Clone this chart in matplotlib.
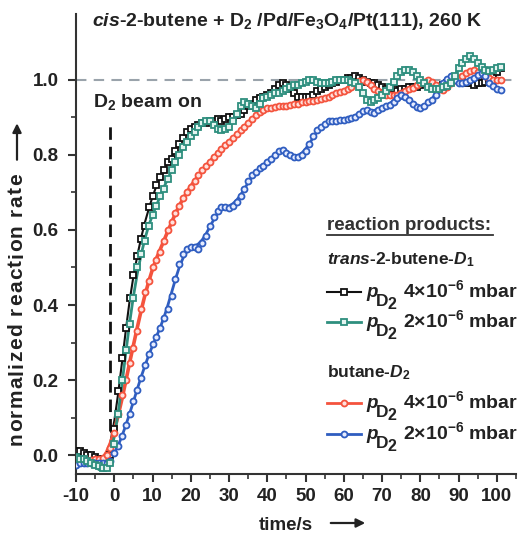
import numpy as np
import matplotlib
matplotlib.use("Agg")
import matplotlib.pyplot as plt
from matplotlib.lines import Line2D
from matplotlib.font_manager import FontProperties, findfont
from matplotlib.ft2font import FT2Font

plt.rcParams['font.family'] = ['Liberation Sans', 'DejaVu Sans']
plt.rcParams['font.weight'] = 'bold'
plt.rcParams['axes.unicode_minus'] = False
plt.rcParams['mathtext.fontset'] = 'custom'
plt.rcParams['mathtext.rm'] = 'Liberation Sans:bold'
plt.rcParams['mathtext.it'] = 'Liberation Sans:italic:bold'
plt.rcParams['mathtext.bf'] = 'Liberation Sans:bold'
plt.rcParams['mathtext.sf'] = 'Liberation Sans:bold'

# time axis (s), one point per second
time_s = np.arange(-10, 102)

# trans-2-butene-D1, pD2 4e-6 mbar
trans_4e6 = [0.01, 0.01, 0.005, 0.0, 0.0, -0.005, -0.01, -0.01, -0.01, 0.0,
             0.07, 0.17, 0.26, 0.34, 0.42, 0.48, 0.53, 0.575, 0.61, 0.66,
             0.69, 0.72, 0.74, 0.76, 0.78, 0.79, 0.81, 0.83, 0.845, 0.86,
             0.87, 0.875, 0.88, 0.885, 0.885, 0.89, 0.89, 0.895, 0.89, 0.895,
             0.9, 0.9, 0.905, 0.91, 0.92, 0.93, 0.935, 0.945, 0.95, 0.955,
             0.96, 0.965, 0.975, 0.985, 0.99, 0.985, 0.975, 0.965, 0.955, 0.955,
             0.955, 0.955, 0.96, 0.97, 0.975, 0.98, 0.985, 0.99, 0.995, 1.0,
             1.0, 1.005, 1.005, 1.01, 1.005, 1.0, 0.995, 0.99, 0.99, 0.985,
             0.98, 0.975, 0.975, 0.975, 0.97, 0.975, 0.975, 0.98, 0.98, 0.98,
             0.985, 0.99, 0.99, 0.985, 0.98, 0.98, 0.985, 0.99, 0.995, 1.0,
             1.0, 0.995, 0.99, 0.99, 0.985, 0.99, 0.99, 0.995, 1.0, 1.01,
             1.02, 1.03]

# trans-2-butene-D1, pD2 2e-6 mbar
trans_2e6 = [-0.005, -0.01, -0.01, -0.015, -0.02, -0.025, -0.03, -0.035, -0.035, -0.02,
             0.03, 0.11, 0.2, 0.28, 0.35, 0.42, 0.5, 0.535, 0.57, 0.61,
             0.64, 0.665, 0.69, 0.71, 0.735, 0.76, 0.78, 0.8, 0.82, 0.835,
             0.85, 0.86, 0.875, 0.885, 0.89, 0.89, 0.88, 0.87, 0.865, 0.87,
             0.875, 0.89, 0.91, 0.93, 0.94, 0.935, 0.93, 0.925, 0.935, 0.95,
             0.955, 0.96, 0.965, 0.965, 0.97, 0.975, 0.98, 0.985, 0.985, 0.99,
             0.995, 1.0, 1.0, 0.995, 0.99, 0.99, 0.99, 0.995, 1.0, 1.0,
             1.0, 1.0, 0.995, 0.99, 0.98, 0.965, 0.945, 0.94, 0.945, 0.95,
             0.96, 0.97, 0.98, 0.995, 1.01, 1.02, 1.025, 1.027, 1.02, 1.01,
             1.0, 0.99, 0.98, 0.975, 0.975, 0.975, 0.98, 0.982, 0.99, 1.01,
             1.03, 1.045, 1.055, 1.062, 1.055, 1.045, 1.035, 1.025, 1.022, 1.025,
             1.03, 1.035]

# butane-D2, pD2 4e-6 mbar
butane_4e6 = [-0.01, -0.01, -0.01, -0.012, -0.012, -0.01, -0.01, -0.008, 0.0, 0.02,
              0.06, 0.11, 0.16, 0.2, 0.245, 0.285, 0.33, 0.39, 0.435, 0.465,
              0.5, 0.52, 0.54, 0.57, 0.6, 0.62, 0.645, 0.665, 0.685, 0.7,
              0.715, 0.73, 0.745, 0.76, 0.77, 0.78, 0.795, 0.805, 0.815, 0.825,
              0.835, 0.845, 0.855, 0.865, 0.875, 0.885, 0.895, 0.905, 0.915, 0.92,
              0.925, 0.925, 0.928, 0.93, 0.93, 0.93, 0.932, 0.935, 0.935, 0.94,
              0.94, 0.942, 0.942, 0.945, 0.948, 0.95, 0.955, 0.96, 0.965, 0.968,
              0.97, 0.975, 0.98, 0.99, 0.997, 1.0, 0.995, 0.985, 0.975, 0.97,
              0.965, 0.96, 0.958, 0.958, 0.96, 0.965, 0.97, 0.975, 0.978, 0.985,
              0.99, 0.995, 1.0, 0.995, 0.985, 0.975, 0.973, 0.98, 0.99, 1.0,
              1.005, 1.01, 1.018, 1.022, 1.027, 1.02, 1.015, 1.009, 1.005, 1.0,
              1.0, 1.0]

# butane-D2, pD2 2e-6 mbar
butane_2e6 = [-0.025, -0.022, -0.02, -0.02, -0.02, -0.02, -0.022, -0.022, -0.02, -0.015,
              0.005, 0.025, 0.05, 0.08, 0.11, 0.145, 0.175, 0.205, 0.24, 0.27,
              0.295, 0.315, 0.34, 0.365, 0.39, 0.425, 0.47, 0.51, 0.535, 0.55,
              0.555, 0.555, 0.55, 0.565, 0.585, 0.61, 0.635, 0.65, 0.66, 0.66,
              0.658, 0.665, 0.675, 0.69, 0.71, 0.73, 0.745, 0.755, 0.765, 0.77,
              0.78, 0.79, 0.8, 0.81, 0.813, 0.805, 0.8, 0.795, 0.795, 0.8,
              0.81, 0.83, 0.85, 0.867, 0.875, 0.883, 0.889, 0.89, 0.891, 0.893,
              0.893, 0.895, 0.898, 0.902, 0.91, 0.917, 0.92, 0.915, 0.911, 0.92,
              0.925, 0.93, 0.933, 0.94, 0.95, 0.958, 0.955, 0.945, 0.935, 0.928,
              0.924, 0.93, 0.94, 0.947, 0.96, 0.975, 0.99, 1.003, 1.009, 1.0,
              0.99, 0.99, 0.995, 1.0, 1.005, 1.012, 1.018, 1.01, 0.991, 0.982,
              0.975, 0.973]

ylabel_text = 'normalized reaction rate'


def smooth(y, half=5):
    # local quadratic fit (Savitzky-Golay style) for the guide lines
    y = np.asarray(y, float)
    out = np.empty_like(y)
    for i in range(len(y)):
        lo, hi = max(0, i - half), min(len(y), i + half + 1)
        c = np.polyfit(time_s[lo:hi], y[lo:hi], 2)
        out[i] = np.polyval(c, time_s[i])
    return out


W, H = 521, 533
fig = plt.figure(figsize=(W / 100, H / 100), dpi=100)
ax = fig.add_axes([76 / W, 1 - 474 / H, (516 - 76) / W, (474 - 14) / H])

series = [
    (trans_4e6, '#111111', 's', 4.6, 1.5, 'white'),
    (butane_4e6, '#f4533d', 'o', 4.3, 2.6, '#ffe0dc'),
    (butane_2e6, '#2f5dc0', 'o', 4.3, 2.0, '#e6ecff'),
    (trans_2e6, '#2e8f7e', 's', 3.9, 2.0, '#e4f4f0'),
]
for vals, col, mk, ms, lw, fc in series:
    ax.plot(time_s, smooth(vals), color=col, lw=lw, zorder=2)
    ax.plot(time_s, vals, ls='none', marker=mk, ms=ms, mew=1.3, mec=col, mfc=fc, zorder=3)

ax.axhline(1.0, color='#9aa3ab', lw=1.5, ls=(0, (5, 3.5)), zorder=1)
ax.plot([-1, -1], [0.065, 0.885], color='#111111', lw=2, ls=(0, (4.5, 2.5)), zorder=4)
ax.text(-5.6, 0.94, r'D$_2$ beam on', fontsize=14, fontweight='bold', va='center', ha='left',
        color='#222222')

ax.set_xlim(-10, 105)
ax.set_ylim(-0.05, 1.175)
ax.set_xticks(np.arange(-10, 101, 10))
ax.set_xticks(np.arange(-5, 106, 10), minor=True)
ax.set_yticks(np.arange(0, 1.01, 0.2))
ax.set_yticks(np.arange(0.1, 1.1, 0.2), minor=True)
ax.set_yticklabels([f'{v:.1f}' for v in np.arange(0, 1.01, 0.2)])
for s in ['top', 'right']:
    ax.spines[s].set_visible(False)
for s in ['left', 'bottom']:
    ax.spines[s].set_linewidth(1.5)
    ax.spines[s].set_color('#333333')
ax.tick_params(which='major', direction='out', length=6, width=1.5, color='#333333',
               labelsize=13.5, labelcolor='#222222')
ax.tick_params(axis='y', which='major', pad=6.5)
ax.tick_params(axis='x', which='major', pad=4)
ax.tick_params(which='minor', direction='out', length=3.5, width=1.2, color='#333333')
for lab in ax.get_xticklabels() + ax.get_yticklabels():
    lab.set_fontweight('bold')

# title and axis labels
fig.text(287 / W, 1 - 21 / H,
         r'$\mathit{cis}$-2-butene + D$_2$ /Pd/Fe$_3$O$_4$/Pt(111), 260 K',
         fontsize=14, fontweight='bold', ha='center', va='center', color='#222222')
fig.text(286 / W, 1 - 525 / H, 'time/s', fontsize=13.5, fontweight='bold', ha='center',
         va='center', color='#222222')
ax.annotate('', xy=(368 / W, 1 - 523 / H), xytext=(328 / W, 1 - 523 / H),
            xycoords='figure fraction', textcoords='figure fraction',
            arrowprops=dict(arrowstyle='-|>', lw=1.6, color='#222222', mutation_scale=13))

# y label, slightly tracked, running up from y=445 px
fsize = 15
ft = FT2Font(findfont(FontProperties(family='Liberation Sans', weight='bold')))
ft.set_size(fsize, 100)
adv = [ft.load_char(ord(c)).linearHoriAdvance / 65536 for c in ylabel_text]
ypos = 445.0
for c, a in zip(ylabel_text, adv):
    fig.text(22 / W, 1 - ypos / H, c, fontsize=fsize, fontweight='bold', rotation=90,
             rotation_mode='anchor', ha='left', va='baseline', color='#222222')
    ypos -= a + 1.3
ax.annotate('', xy=(17 / W, 1 - (ypos - 52) / H), xytext=(17 / W, 1 - (ypos - 10) / H),
            xycoords='figure fraction', textcoords='figure fraction',
            arrowprops=dict(arrowstyle='-|>', lw=1.6, color='#222222', mutation_scale=13))

# legend block
fig.text(327 / W, 1 - 225 / H, 'reaction products:', fontsize=13.5, fontweight='bold',
         ha='left', va='center', color='#333333')
fig.add_artist(Line2D([327 / W, 493 / W], [1 - 235 / H, 1 - 235 / H], color='#333333', lw=1.3))
fig.text(327 / W, 1 - 260 / H, r'$\mathit{trans}$-2-butene-$\mathit{D}_{\mathit{1}}$',
         fontsize=12.5, fontweight='bold', ha='left', va='center', color='#222222')
fig.text(327 / W, 1 - 373 / H, r'butane-$\mathit{D}_{\mathit{2}}$',
         fontsize=12.5, fontweight='bold', ha='left', va='center', color='#222222')

entry_base = [297, 327, 408, 439]
entry_style = [series[0], series[3], series[1], series[2]]
entry_text = [r'4×10$^{-6}$ mbar', r'2×10$^{-6}$ mbar', r'4×10$^{-6}$ mbar', r'2×10$^{-6}$ mbar']
for yb, st, txt in zip(entry_base, entry_style, entry_text):
    _, col, mk, ms, lw, fc = st
    fy = 1 - (yb - 5) / H
    fig.add_artist(Line2D([327 / W, 361 / W], [fy, fy], color=col, lw=min(lw, 2.0)))
    fig.add_artist(Line2D([344 / W], [fy], ls='none', marker=mk, ms=ms, mew=1.3, mec=col, mfc=fc))
    fig.text(366 / W, 1 - yb / H, 'p', fontsize=13.5, fontweight='bold', style='italic',
             ha='left', va='baseline', color='#222222')
    fig.text(376 / W, 1 - (yb + 9) / H, 'D', fontsize=12.5, fontweight='bold',
             ha='left', va='baseline', color='#222222')
    fig.text(387 / W, 1 - (yb + 12) / H, '2', fontsize=11.5, fontweight='bold',
             ha='left', va='baseline', color='#222222')
    fig.text(403 / W, 1 - yb / H, txt, fontsize=14, fontweight='bold', ha='left',
             va='baseline', color='#222222')

fig.savefig('out.png', dpi=100)
